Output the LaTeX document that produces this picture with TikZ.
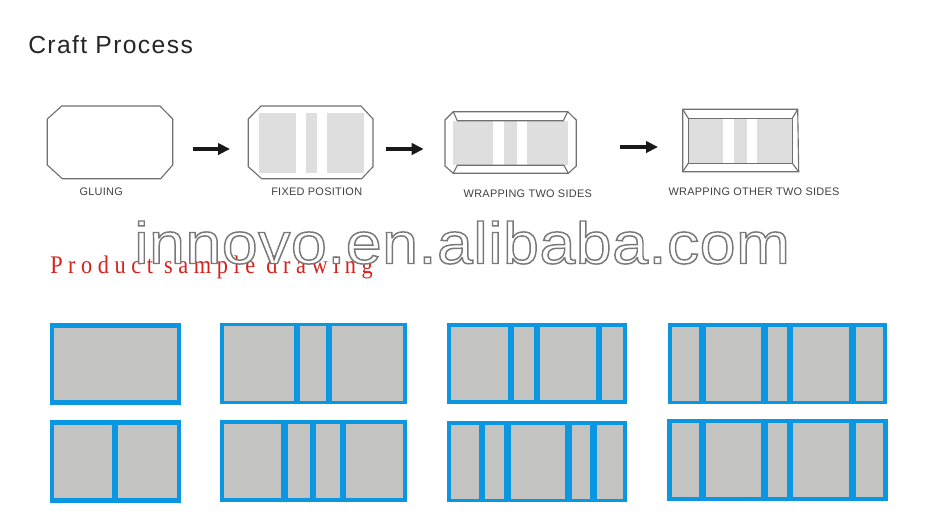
\documentclass[tikz,border=0pt]{standalone}
\usepackage{fontspec}
\setmainfont{Liberation Sans}
\newfontfamily\capfont[LetterSpace=2.6]{Liberation Sans}
\newfontfamily\titlefont[LetterSpace=5.6]{Liberation Sans}
\newfontfamily\redfont[LetterSpace=22,FakeStretch=0.88]{Liberation Serif}
\newfontfamily\markfont[LetterSpace=0.85,FakeStretch=1.1]{Liberation Sans}
\usetikzlibrary{arrows.meta}
\definecolor{panelblue}{HTML}{0A96E0}
\definecolor{panelgray}{HTML}{C3C3C1}
\definecolor{palegray}{HTML}{DEDEDE}
\definecolor{lineink}{HTML}{707070}
\definecolor{redink}{HTML}{D8201C}
\tikzset{
  x=0.75pt,y=-0.75pt,
  shapeline/.style={draw=lineink,line width=0.85pt,line join=miter},
  pale/.style={fill=palegray,draw=none},
  flow/.style={draw=black!90,line width=2.3pt,-{Triangle[length=9pt,width=8.5pt]}},
  caption/.style={inner sep=0pt,text=black!75,font=\capfont\fontsize{8.2pt}{10pt}\selectfont},
  frameblue/.style={fill=panelblue,draw=none},
  cell/.style={fill=panelgray,draw=none}
}
% #1,#2 outer x; #3,#4 outer y; #5,#6 cell y; #7 list of x0/x1 pairs
\newcommand{\panelbox}[7]{%
  \fill[frameblue] (#1,#3) rectangle (#2,#4);
  \foreach \xa/\xb in {#7} {\fill[cell] (\xa,#5) rectangle (\xb,#6);}
}
\begin{document}
\begin{tikzpicture}
\useasboundingbox (0,0) rectangle (925,526);
\fill[white] (0,0) rectangle (925,526);

\node[anchor=base west,inner sep=0pt,text=black!85,font=\titlefont\fontsize{18.5pt}{20pt}\selectfont] (title) at (28,53) {Craft Process};

% step 1
\draw[shapeline] (61.7,106)--(160,106)--(172.7,119)--(172.7,165)--(160.7,178.7)--(62.3,178.7)--(47.3,165)--(47.3,119)--cycle;
\node[caption] (cap1) at (101.2,192) {GLUING};

% step 2
\foreach \xa/\xb in {258.7/296,305.7/317.3,327/364} {\fill[pale] (\xa,112.7) rectangle (\xb,172.7);}
\draw[shapeline] (261,106)--(361,106)--(373,119)--(373,166.7)--(361.7,178.7)--(261.7,178.7)--(248.3,166.7)--(248.3,119)--cycle;
\node[caption] (cap2) at (316.7,192) {FIXED POSITION};

% step 3
\foreach \xa/\xb in {453.3/493.3,504/516.7,527/567.7} {\fill[pale] (\xa,120.7) rectangle (\xb,165.3);}
\draw[shapeline] (453.3,111.7)--(567.7,111.7)--(576.3,120)--(576.3,166)--(568.3,173.3)--(453.3,173.3)--(445,166)--(445,120)--cycle;
\draw[shapeline] (453.3,111.7)--(457.3,120.7)--(563.3,120.7)--(567.7,111.7);
\draw[shapeline] (453.3,173.3)--(457.3,165.3)--(564,165.3)--(568.3,173.3);
\node[caption] (cap3) at (527.8,194) {WRAPPING TWO SIDES};

% step 4
\foreach \xa/\xb in {688.3/723.3,734/746.7,757/792.3} {\fill[pale] (\xa,118.3) rectangle (\xb,163.3);}
\draw[shapeline] (682.7,109.3)--(797.7,109.3)--(798.7,171.7)--(682.7,171.7)--cycle;
\draw[shapeline] (688.3,118.3)--(792.3,118.3)--(792.3,163.3)--(688.3,163.3)--cycle;
\draw[shapeline] (682.7,109.3)--(688.3,118.3) (797.7,109.3)--(792.3,118.3) (798.7,171.7)--(792.3,163.3) (682.7,171.7)--(688.3,163.3);
\node[caption] (cap4) at (754,192) {WRAPPING OTHER TWO SIDES};

% arrows
\coordinate (a1s) at (192.7,149); \coordinate (a1e) at (230,149);
\coordinate (a2s) at (386.3,149); \coordinate (a2e) at (423.7,149);
\coordinate (a3s) at (620,147);   \coordinate (a3e) at (658,147);
\draw[flow] (a1s)--(a1e);
\draw[flow] (a2s)--(a2e);
\draw[flow] (a3s)--(a3e);

% red heading under the watermark
\node[anchor=base west,inner sep=0pt,text=redink,font=\redfont\fontsize{19pt}{20pt}\selectfont] (sample) at (50,273) {Product sample drawing};

% watermark
\node[anchor=base west,inner sep=0pt,font=\markfont\fontsize{44pt}{50pt}\selectfont] (mark) at (134,263.5) {\special{pdf:code q 2 Tr 1.1 w 0.47 G 1 g}innovo.en.alibaba.com\special{pdf:code Q}};

% sample panels
\panelbox{50}{180.7}{322.7}{405}{327.7}{400}{54/176.7}
\panelbox{50}{180.7}{420.3}{502.7}{425.3}{497.7}{54/112,118.3/176.7}
\panelbox{220}{407}{322.7}{404.3}{326.3}{400.7}{224/294,300.3/326,332.3/403}
\panelbox{220}{407}{420.3}{502}{424}{498.3}{224/281.3,288/310,316.3/340,346/403}
\panelbox{447}{627}{322.7}{404.3}{326.7}{400.3}{451/507.7,514.3/533.7,540/595.7,602/623}
\panelbox{447}{627}{421}{502.3}{425}{498.7}{451/478.7,485/504,510.7/565,571.7/590,596.7/623}
\panelbox{668}{887.3}{323.3}{403.7}{326.7}{400.7}{672.3/699.3,706/761.3,767.7/787,793.3/849,855.7/883}
\panelbox{667.3}{887.7}{419.3}{500.7}{422.7}{497}{672.3/699.3,706/761.3,767.7/787,793.3/849,855.7/883}
\end{tikzpicture}
\end{document}
